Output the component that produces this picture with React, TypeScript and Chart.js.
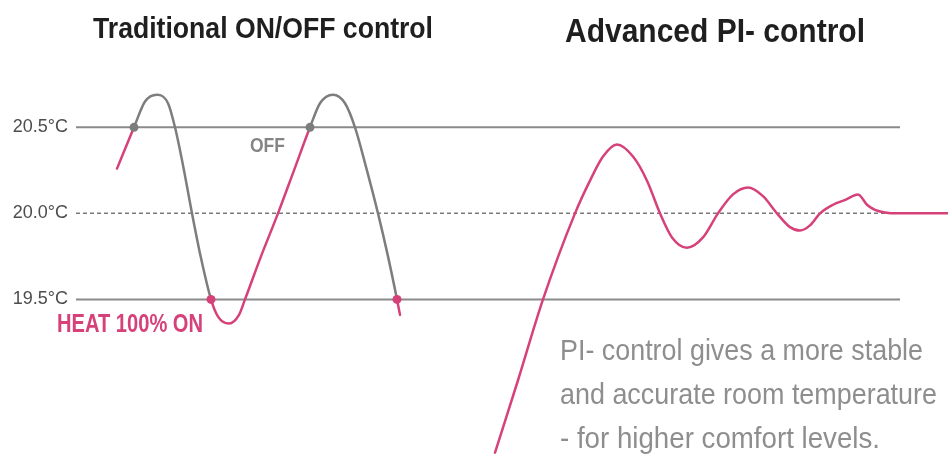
import React, { useEffect, useRef } from 'react';
import { Chart, registerables } from 'chart.js';

Chart.register(...registerables);

// ---- Data ----
const yTicks = [19.5, 20.0, 20.5];
const upperLimit = 20.5;
const lowerLimit = 19.5;
const setpoint = 20.0;
const limitRange = [0, 206];
const setpointRange = [0, 218];

// Traditional ON/OFF control curve (time units, °C)
const onOffTime = [10.25, 14.5, 17.25, 20.25, 23, 24.75, 26.75, 29, 31.25, 33.75, 35.5, 38.25, 40.75, 42.25, 46.25, 50.5, 54.5, 58.5, 61, 64.25, 67.25, 69.75, 72.5, 75.5, 78, 80.25, 81];
const onOffTemp = [20.26, 20.5, 20.65, 20.69, 20.64, 20.5, 20.28, 20.0, 19.74, 19.5, 19.4, 19.36, 19.41, 19.5, 19.75, 20.0, 20.25, 20.5, 20.64, 20.69, 20.64, 20.5, 20.27, 20.0, 19.75, 19.5, 19.41];
const switchTimes = [14.5, 33.75, 58.5, 80.25];
const switchStates = ['OFF', 'ON', 'OFF', 'ON'];

// Advanced PI control curve
const piTime = [104.75, 110.5, 116.75, 124.75, 128.5, 131.75, 135.25, 139.25, 142.75, 146, 149, 152.75, 156.75, 160.5, 164.25, 168, 171.75, 175.25, 178.5, 181, 183.5, 186, 189.25, 192.5, 195.5, 197.75, 199.75, 202.25, 205.25, 218];
const piTemp = [18.61, 19.03, 19.5, 20.0, 20.19, 20.33, 20.4, 20.33, 20.19, 20.0, 19.86, 19.8, 19.86, 20.0, 20.11, 20.15, 20.1, 20.0, 19.92, 19.9, 19.93, 20.0, 20.05, 20.08, 20.11, 20.05, 20.02, 20.005, 20.0, 20.0];

const titleLeft = 'Traditional ON/OFF control';
const titleRight = 'Advanced PI- control';
const offLabel = 'OFF';
const heatLabel = 'HEAT 100% ON';
const piNote = ['PI- control gives a more stable', 'and accurate room temperature', '- for higher comfort levels.'];

// ---- Styles ----
const PINK = '#d6417a';
const GRAY_CURVE = '#7d7d7d';
const GRAY_LINE = '#8a8a8a';
const FONT = '"Liberation Sans", Arial, Helvetica, sans-serif';

function heaterState(t: number): string {
  let s = 'ON';
  for (let i = 0; i < switchTimes.length; i++) {
    if (t >= switchTimes[i] - 1e-9) s = switchStates[i];
  }
  return s;
}

const textPlugin = {
  id: 'chartTexts',
  afterDraw(chart: any) {
    const ctx = chart.ctx as CanvasRenderingContext2D;
    const ys = chart.scales.y;
    const y205 = ys.getPixelForValue(upperLimit);
    const y195 = ys.getPixelForValue(lowerLimit);
    ctx.save();
    ctx.textAlign = 'left';
    ctx.textBaseline = 'alphabetic';
    const draw = (text: string, x: number, y: number, font: string, color: string, maxW: number) => {
      ctx.font = font;
      ctx.fillStyle = color;
      ctx.fillText(text, x, y, maxW);
    };
    draw(titleLeft, 93, 38, `bold 29px ${FONT}`, '#1f1f1f', 340);
    draw(titleRight, 565, 42, `bold 33px ${FONT}`, '#1f1f1f', 300);
    draw(offLabel, 250, y205 + 25, `bold 20px ${FONT}`, '#858585', 35);
    draw(heatLabel, 57, y195 + 33, `bold 25px ${FONT}`, PINK, 146);
    const noteW = [363, 377, 320];
    piNote.forEach((line, i) => {
      draw(line, 560, 360 + i * 44, `30px ${FONT}`, '#8e8e8e', noteW[i]);
    });
    ctx.restore();
  },
};

export default function App() {
  const canvasRef = useRef<HTMLCanvasElement | null>(null);

  useEffect(() => {
    document.body.style.margin = '0';
    const canvas = canvasRef.current;
    if (!canvas) return;

    const onOffData = onOffTime.map((t, i) => ({ x: t, y: onOffTemp[i] }));
    const piData = piTime.map((t, i) => ({ x: t, y: piTemp[i] }));

    const chart = new Chart(canvas, {
      type: 'line',
      data: {
        datasets: [
          {
            label: 'ON/OFF control',
            data: onOffData,
            order: 0,
            borderWidth: 2.5,
            borderColor: PINK,
            borderCapStyle: 'round',
            borderJoinStyle: 'round',
            cubicInterpolationMode: 'monotone',
            segment: {
              borderColor: (c: any) => (heaterState(c.p0.parsed.x) === 'ON' ? PINK : GRAY_CURVE),
            },
            pointRadius: (c: any) => (switchTimes.includes(onOffTime[c.dataIndex]) ? 4.5 : 0),
            pointBorderWidth: 0,
            pointBackgroundColor: (c: any) =>
              heaterState(onOffTime[c.dataIndex]) === 'ON' ? PINK : GRAY_CURVE,
            pointBorderColor: 'rgba(0,0,0,0)',
            fill: false,
          } as any,
          {
            label: 'PI control',
            data: piData,
            order: 0,
            borderWidth: 2.5,
            borderColor: PINK,
            borderCapStyle: 'round',
            borderJoinStyle: 'round',
            cubicInterpolationMode: 'monotone',
            pointRadius: 0,
            fill: false,
          } as any,
          {
            label: 'upper',
            data: limitRange.map((t) => ({ x: t, y: upperLimit })),
            order: 1,
            borderWidth: 2,
            borderColor: GRAY_LINE,
            pointRadius: 0,
          },
          {
            label: 'lower',
            data: limitRange.map((t) => ({ x: t, y: lowerLimit })),
            order: 1,
            borderWidth: 2,
            borderColor: GRAY_LINE,
            pointRadius: 0,
          },
          {
            label: 'setpoint',
            data: setpointRange.map((t) => ({ x: t, y: setpoint })),
            order: 1,
            borderWidth: 1.5,
            borderColor: '#7a7a7a',
            borderDash: [4, 3],
            pointRadius: 0,
          },
        ],
      },
      options: {
        responsive: false,
        animation: false,
        devicePixelRatio: 1,
        layout: { padding: 0 },
        plugins: {
          legend: { display: false },
          tooltip: { enabled: false },
          title: { display: false },
        },
        scales: {
          x: { type: 'linear', display: false, min: 0, max: 218 },
          y: {
            type: 'linear',
            position: 'left',
            min: 18.52,
            max: 21.24,
            grid: { display: false, drawTicks: false },
            border: { display: false },
            afterBuildTicks: (s: any) => {
              s.ticks = yTicks.map((v) => ({ value: v }));
            },
            afterFit: (s: any) => {
              s.width = 76;
              s.paddingTop = 0;
              s.paddingBottom = 0;
            },
            ticks: {
              padding: 8,
              color: '#4d4d4d',
              font: { family: FONT, size: 18 },
              callback: (v: any) => `${Number(v).toFixed(1)}°C`,
            },
          },
        },
      } as any,
      plugins: [textPlugin],
    });

    return () => chart.destroy();
  }, []);

  return (
    <div style={{ width: 948, height: 468, background: '#ffffff' }}>
      <canvas ref={canvasRef} width={948} height={468} style={{ display: 'block' }} />
    </div>
  );
}
